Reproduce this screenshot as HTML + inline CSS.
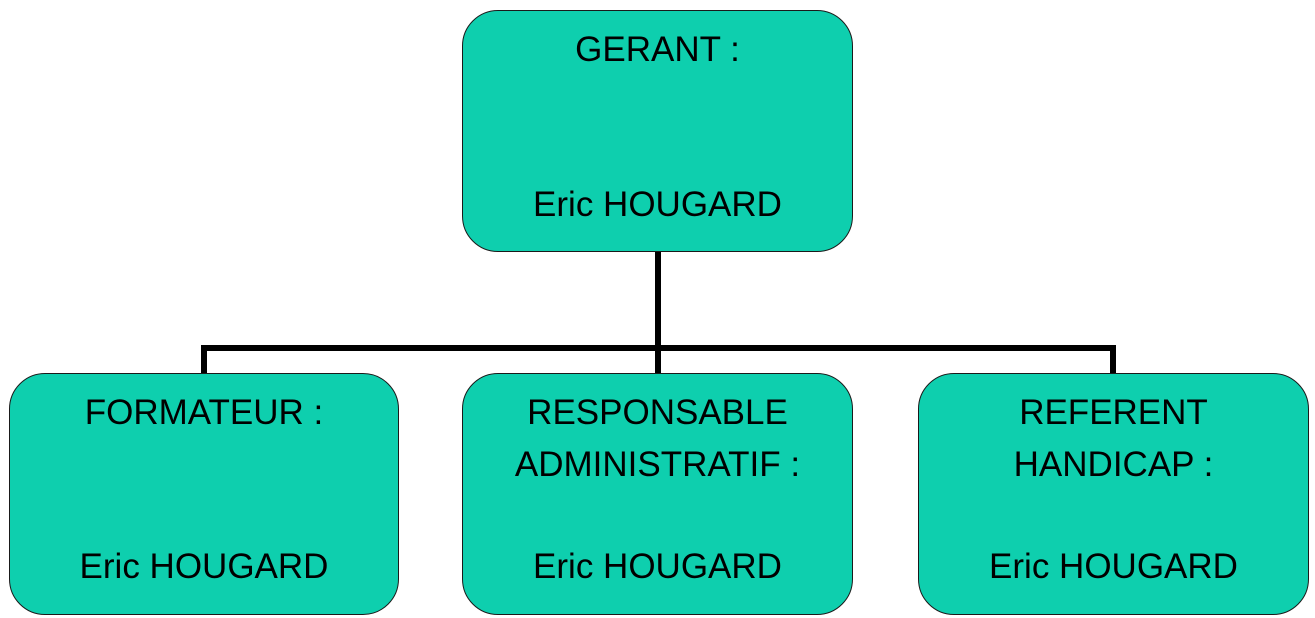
<!DOCTYPE html>
<html><head><style>
body{margin:0;width:1315px;height:618px;background:#fff;position:relative;overflow:hidden;font-family:"Liberation Sans",sans-serif;}
.b{position:absolute;box-sizing:border-box;background:#0ECFAE;border:1.5px solid #1a1a1a;border-radius:36px;height:242px;width:391px;text-align:center;font-size:35px;color:#000;white-space:nowrap;}
.b div{position:absolute;left:-20px;right:-20px;line-height:52px;}
.l{position:absolute;background:#000;}
</style></head><body>
<div class="l" style="left:655px;top:250px;width:6px;height:124px"></div>
<div class="l" style="left:201px;top:345px;width:915px;height:6px"></div>
<div class="l" style="left:201px;top:345px;width:6px;height:30px"></div>
<div class="l" style="left:1110px;top:345px;width:6px;height:30px"></div>
<div class="b" style="left:462px;top:10px"><div style="top:13px">GERANT :</div><div style="top:168px">Eric HOUGARD</div></div>
<div class="b" style="left:9px;top:373px;width:390px"><div style="top:13px">FORMATEUR :</div><div style="top:167px">Eric HOUGARD</div></div>
<div class="b" style="left:462px;top:373px"><div style="top:13px">RESPONSABLE<br>ADMINISTRATIF :</div><div style="top:167px">Eric HOUGARD</div></div>
<div class="b" style="left:918px;top:373px"><div style="top:13px">REFERENT<br>HANDICAP :</div><div style="top:167px">Eric HOUGARD</div></div>
</body></html>
